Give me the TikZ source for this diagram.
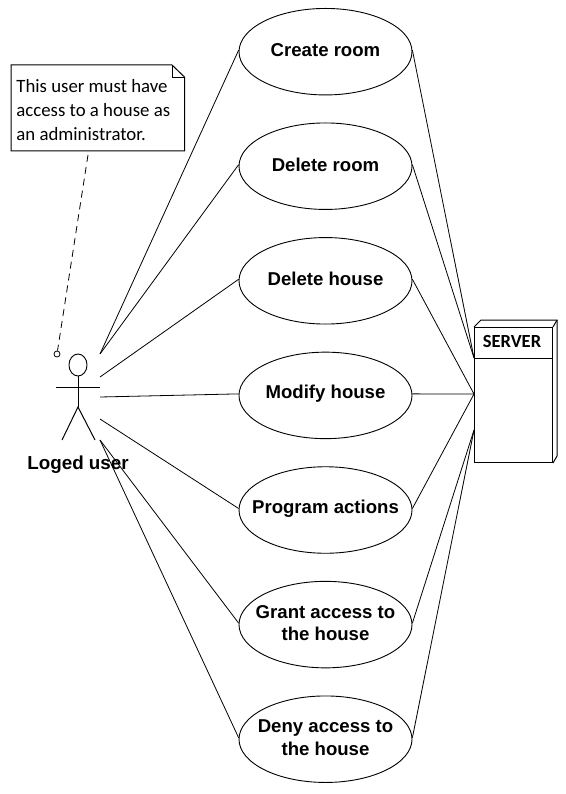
\documentclass[tikz,border=0pt]{standalone}
\usepackage{fontspec}
\setmainfont{Liberation Sans}
\newfontfamily\notefont{Carlito}
\usetikzlibrary{shapes.geometric}
\tikzset{
  uc/.style={draw,ellipse,minimum width=173pt,minimum height=86.5pt,inner sep=0pt,line width=0.9pt},
  uclabel/.style={align=center,inner sep=0pt,yshift=1.5pt,font=\fontsize{18.6}{22.3}\selectfont\bfseries},
  link/.style={draw,line width=0.8pt},
  shapeline/.style={draw,line width=1pt},
}
\begin{document}
\begin{tikzpicture}[x=1pt,y=-1pt,line width=0.8pt]
\useasboundingbox (0,0) rectangle (565,794);
\node[uc,label={[uclabel]center:Create room}] (create) at (325.5,51.7) {};
\node[uc,label={[uclabel]center:Delete room}] (delroom) at (325.5,166.2) {};
\node[uc,label={[uclabel]center:Delete house}] (delhouse) at (325.5,280.8) {};
\node[uc,label={[uclabel]center:Modify house}] (modify) at (325.5,395.4) {};
\node[uc,label={[uclabel]center:Program actions}] (program) at (325.5,510) {};
\node[uc,label={[uclabel]center:{Grant access to\\the house}}] (grant) at (325.5,624.6) {};
\node[uc,label={[uclabel]center:{Deny access to\\the house}}] (deny) at (325.5,739.2) {};
% actor
\node[draw,ellipse,minimum width=18pt,minimum height=22pt,inner sep=0pt,line width=0.9pt] (head) at (78,365) {};
\coordinate (hip) at (78,407);
\coordinate (armL) at (56,387);
\coordinate (armR) at (100,387);
\coordinate (legL) at (62,440);
\coordinate (legR) at (95,440);
\draw[shapeline] (head.south) -- (hip);
\draw[shapeline] (armL) -- (armR);
\draw[shapeline] (legL) -- (hip) -- (legR);
\node[font=\fontsize{18.8}{22}\selectfont\bfseries] (actorlabel) at (78,464.5) {Loged user};
% actor ports
\coordinate (a1) at (100,354);
\coordinate (a2) at (100,377);
\coordinate (a3) at (100,397);
\coordinate (a4) at (100,419);
\coordinate (a5) at (100,440);
\draw[link] (a1) -- (create.179);
\draw[link] (a1) -- (delroom.179);
\draw[link] (a2) -- (delhouse.179);
\draw[link] (a3) -- (modify.179);
\draw[link] (a4) -- (program.179);
\draw[link] (a5) -- (grant.179);
\draw[link] (a5) -- (deny.179);
% server
\node[draw,minimum width=78pt,minimum height=31pt,inner sep=0pt,line width=1pt,anchor=north west] (srvhead) at (474,327) {};
\node[font=\notefont\fontsize{18.5}{20}\selectfont\bfseries] (srvtext) at (512,341.5) {SERVER};
\node[draw,minimum width=78pt,minimum height=104pt,inner sep=0pt,line width=1pt,anchor=north west] (srvbody) at (474,358) {};
\coordinate (backTL) at (481,320);
\coordinate (backTR) at (557,320);
\coordinate (backBR) at (557,456);
\draw[shapeline] (srvhead.north west) -- (backTL) -- (backTR) -- (backBR) -- (srvbody.south east);
\draw[shapeline] (srvhead.north east) -- (backTR);
\coordinate (s1) at (474,358);
\coordinate (s2) at (474,394);
\coordinate (s3) at (474,430);
\draw[link] (create.1) -- (s1);
\draw[link] (delroom.1) -- (s1);
\draw[link] (delhouse.1) -- (s2);
\draw[link] (modify.1) -- (s2);
\draw[link] (program.1) -- (s2);
\draw[link] (grant.1) -- (s3);
\draw[link] (deny.1) -- (s3);
% note
\coordinate (nTL) at (11,65);
\coordinate (nF1) at (172,65);
\coordinate (nF2) at (184.5,77);
\coordinate (nBR) at (184.5,151);
\coordinate (nBL) at (11,151);
\coordinate (nF3) at (172,77);
\draw[shapeline] (nTL) -- (nF1) -- (nF2) -- (nBR) -- (nBL) -- cycle;
\draw[line width=0.6pt] (nF1) -- (nF3) -- (nF2);
\node[anchor=north west,align=left,inner sep=0pt,font=\notefont\fontsize{18.8}{24}\selectfont] (notetext) at (16,79) {This user must have\\access to a house as\\an administrator.};
\coordinate (noteanchor) at (88,155);
\node[draw,circle,minimum size=6pt,inner sep=0pt,line width=0.8pt] (pin) at (57,354) {};
\draw[link,dash pattern=on 7pt off 5pt] (noteanchor) -- (pin);
\end{tikzpicture}
\end{document}
